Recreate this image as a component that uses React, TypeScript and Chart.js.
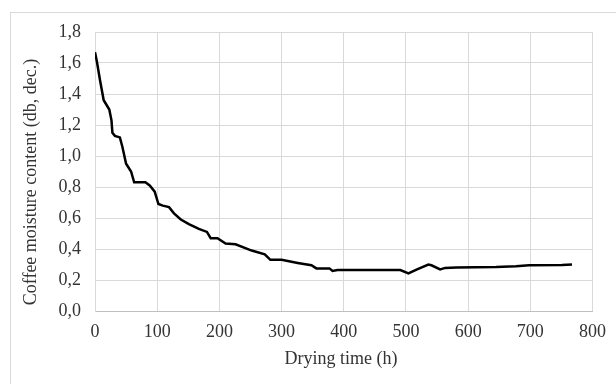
import React, { useEffect, useRef } from "react";
import { Chart, registerables } from "chart.js";

Chart.register(...registerables);

const hours = [0, 3, 8, 14, 23, 26.5, 28, 32, 40, 44, 50, 58, 63, 81, 88, 96, 102, 109, 119, 127, 138, 151, 167, 180, 186, 197, 210, 226, 252, 273, 282, 300, 326, 348, 356, 377, 382, 390, 491, 504, 517, 536, 541, 555, 563, 581, 645, 677, 698, 751, 767];
const moisture = [1.67, 1.61, 1.49, 1.36, 1.3, 1.23, 1.15, 1.13, 1.12, 1.06, 0.95, 0.9, 0.83, 0.83, 0.81, 0.77, 0.69, 0.68, 0.67, 0.63, 0.59, 0.56, 0.53, 0.51, 0.47, 0.47, 0.435, 0.43, 0.39, 0.366, 0.33, 0.33, 0.31, 0.295, 0.275, 0.275, 0.258, 0.264, 0.264, 0.242, 0.267, 0.3, 0.295, 0.268, 0.278, 0.28, 0.284, 0.289, 0.295, 0.296, 0.3];

const xTitle = "Drying time (h)";
const yTitle = "Coffee moisture content (db, dec.)";

const FAMILY = "'Liberation Serif', 'Times New Roman', serif";
const TEXT = "#333333";

const decorPlugin = {
  id: "decor",
  beforeDraw(chart: any) {
    const ctx = chart.ctx;
    ctx.save();
    ctx.strokeStyle = "#d9d9d9";
    ctx.lineWidth = 1;
    ctx.strokeRect(10.5, 12.5, 640, 400);
    ctx.restore();
  },
  afterDraw(chart: any) {
    const ctx = chart.ctx;
    ctx.save();
    ctx.fillStyle = TEXT;
    ctx.font = `18px ${FAMILY}`;
    ctx.textAlign = "center";
    ctx.textBaseline = "alphabetic";
    ctx.fillText(xTitle, 341, 364);
    ctx.translate(31, 182);
    ctx.rotate(-Math.PI / 2);
    ctx.textBaseline = "middle";
    ctx.fillText(yTitle, 0, 0);
    ctx.restore();
  },
};

export default function App() {
  const ref = useRef<HTMLCanvasElement>(null);
  useEffect(() => {
    document.body.style.margin = "0";
    const font = { family: FAMILY, size: 18 };
    const chart = new Chart(ref.current!, {
      type: "scatter",
      data: {
        datasets: [
          {
            data: hours.map((h, i) => ({ x: h, y: moisture[i] })),
            showLine: true,
            borderColor: "#000000",
            borderWidth: 2.5,
            pointRadius: 0,
            tension: 0,
          },
        ],
      },
      options: {
        animation: false,
        responsive: false,
        layout: { padding: { left: 0, top: 32, right: 19, bottom: 0 } },
        plugins: { legend: { display: false }, tooltip: { enabled: false } },
        scales: {
          x: {
            type: "linear",
            min: 0,
            max: 800,
            ticks: { stepSize: 100, color: TEXT, font, padding: 10, maxRotation: 0 },
            grid: { color: "#d9d9d9", drawTicks: false },
            border: { color: "#bfbfbf", width: 1 },
            afterFit(scale: any) {
              scale.height = 73;
            },
          },
          y: {
            min: 0,
            max: 1.8,
            ticks: {
              stepSize: 0.2,
              color: TEXT,
              font,
              padding: 14,
              callback: (v: any) => Number(v).toFixed(1).replace(".", ","),
            },
            grid: { color: "#d9d9d9", drawTicks: false },
            border: { color: "#d9d9d9" },
            afterFit(scale: any) {
              scale.width = 95;
            },
          },
        },
      },
      plugins: [decorPlugin],
    } as any);
    return () => chart.destroy();
  }, []);
  return <canvas ref={ref} width={616} height={384} style={{ display: "block" }} />;
}
